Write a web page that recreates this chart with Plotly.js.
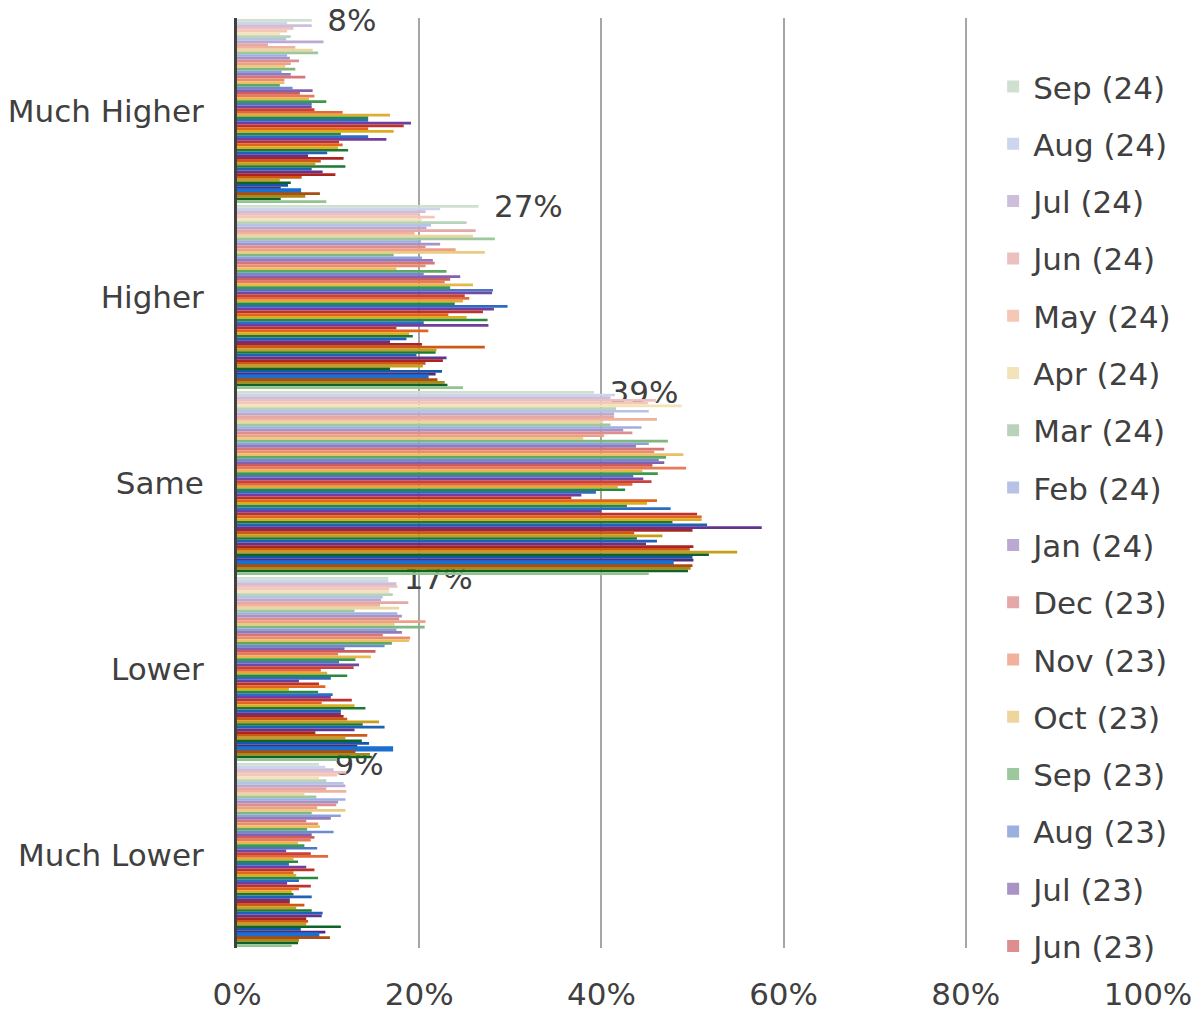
<!DOCTYPE html>
<html>
<head>
<meta charset="utf-8">
<script src="https://cdn.plot.ly/plotly-3.0.1.min.js"></script>
<style>
  html, body { margin: 0; padding: 0; background: #ffffff; }
  #chart { width: 1200px; height: 1012px; }
</style>
</head>
<body>
<div id="chart"></div>
<script>
// ---------------- DATA ----------------
const categories = ['Much Higher', 'Higher', 'Same', 'Lower', 'Much Lower'];

// series, listed top (latest) to bottom (earliest)
const seriesNames = [
  'Sep (24)','Aug (24)','Jul (24)','Jun (24)','May (24)','Apr (24)','Mar (24)','Feb (24)','Jan (24)',
  'Dec (23)','Nov (23)','Oct (23)','Sep (23)','Aug (23)','Jul (23)','Jun (23)','May (23)','Apr (23)','Mar (23)','Feb (23)','Jan (23)',
  'Dec (22)','Nov (22)','Oct (22)','Sep (22)','Aug (22)','Jul (22)','Jun (22)','May (22)','Apr (22)','Mar (22)','Feb (22)','Jan (22)',
  'Dec (21)','Nov (21)','Oct (21)','Sep (21)','Aug (21)','Jul (21)','Jun (21)','May (21)','Apr (21)','Mar (21)','Feb (21)','Jan (21)',
  'Dec (20)','Nov (20)','Oct (20)','Sep (20)','Aug (20)','Jul (20)','Jun (20)','May (20)','Apr (20)','Mar (20)','Feb (20)','Jan (20)',
  'Dec (19)','Nov (19)','Oct (19)','Sep (19)','Aug (19)','Jul (19)','Jun (19)','May (19)','Apr (19)','Mar (19)','Feb (19)'
];

// values (%) per category, in the same order as seriesNames
const muchHigher = [
  8.2, 5.5, 8.2, 6.2, 5.5, 4.7, 5.9, 5.4, 9.5, 3.4,
  6.4, 8.3, 8.9, 5.5, 5.8, 6.8, 5.9, 5.3, 6.4, 4.9,
  5.9, 7.5, 5.2, 5.2, 4.7, 6.1, 8.3, 6.9, 8.5, 7.9,
  9.8, 8.2, 8.2, 8.5, 11.6, 16.8, 14.4, 14.4, 19.1, 18.3,
  14.4, 17.2, 11.4, 14.4, 16.4, 11.2, 11.6, 11.1, 12.2, 9.9,
  7.8, 11.7, 9.2, 8.6, 11.9, 8.2, 9.4, 10.8, 7.1, 4.7,
  5.9, 5.6, 4.8, 6.9, 9.1, 7.5, 4.8, 9.8
];
const higher = [
  26.5, 22.3, 20.7, 20.1, 21.7, 20.3, 25.2, 21.3, 20.8, 26.2,
  19.5, 25.9, 28.3, 20.2, 22.3, 20.7, 24.0, 27.2, 17.2, 20.3,
  21.5, 21.7, 20.7, 17.5, 23.0, 20.5, 24.5, 23.4, 22.8, 25.9,
  23.4, 28.1, 28.0, 25.0, 25.5, 24.8, 23.9, 29.7, 28.2, 27.0,
  23.2, 25.2, 27.5, 20.5, 27.6, 17.5, 21.0, 18.9, 19.3, 18.6,
  16.8, 20.3, 27.2, 21.9, 21.8, 19.7, 23.0, 22.6, 20.7, 20.4,
  16.8, 22.5, 21.8, 20.9, 22.0, 22.8, 23.1, 24.8
];
const same = [
  39.2, 41.5, 41.0, 46.0, 45.1, 48.8, 41.6, 45.2, 41.4, 41.4,
  46.1, 40.2, 41.0, 44.4, 42.4, 43.4, 40.3, 38.0, 47.3, 45.2,
  43.8, 46.9, 45.8, 49.0, 47.1, 46.3, 46.9, 45.6, 49.3, 44.5,
  46.2, 43.5, 44.6, 45.5, 43.4, 41.8, 42.6, 39.4, 37.8, 36.7,
  46.1, 45.0, 42.8, 47.6, 40.0, 50.5, 51.0, 51.0, 47.8, 51.6,
  57.6, 50.0, 43.6, 46.7, 43.9, 46.1, 44.9, 50.1, 49.7, 54.9,
  51.8, 50.0, 50.1, 47.8, 50.0, 49.8, 49.5, 45.2
];
const lower = [
  16.6, 16.6, 17.5, 17.6, 16.7, 16.7, 17.1, 16.0, 15.8, 18.8,
  15.7, 17.8, 12.9, 17.6, 18.1, 17.8, 20.7, 17.3, 20.6, 17.5,
  18.1, 16.0, 19.0, 18.9, 17.0, 16.2, 11.8, 15.2, 11.1, 14.7,
  13.0, 11.2, 13.4, 12.8, 9.2, 9.9, 12.1, 10.3, 6.8, 9.0,
  9.7, 5.7, 8.9, 10.5, 10.3, 12.6, 9.3, 12.9, 14.1, 11.4,
  11.4, 11.7, 12.1, 15.6, 13.8, 16.2, 12.9, 8.6, 14.3, 11.9,
  13.7, 14.5, 13.2, 17.0, 13.0, 14.6, 14.8, 11.0
];
const muchLower = [
  9.0, 9.7, 10.6, 12.0, 11.0, 9.0, 9.8, 11.7, 11.9, 9.8,
  12.0, 7.4, 8.7, 11.9, 11.1, 10.9, 8.8, 11.9, 8.2, 11.4,
  10.3, 7.6, 8.9, 9.1, 7.7, 10.6, 8.2, 8.5, 8.1, 6.7,
  7.4, 8.8, 5.4, 8.1, 10.0, 6.2, 6.7, 5.7, 7.6, 8.5,
  6.2, 6.5, 8.9, 6.8, 5.5, 8.1, 6.8, 6.0, 6.2, 8.2,
  5.8, 5.8, 7.4, 6.5, 8.2, 9.4, 9.3, 7.6, 7.8, 7.6,
  11.4, 7.0, 9.7, 8.9, 10.2, 6.8, 6.7, 6.0
];

// data labels shown on the latest series
const latestLabels = ['8%', '27%', '39%', '17%', '9%'];

// number of legend entries visible in the original
const legendVisibleCount = 16;

// ---------------- STYLE ----------------
const hueOrder = ['g', 'b', 'p', 'r', 'o', 'y'];
const shades = {
  g: ['#cfe0d0','#b9d3ba','#9dc79c','#7fb87f','#5ea862','#3a9a4a','#258a3b','#1a7a33','#0f6328'],
  b: ['#ccd5ec','#b6c3e6','#9cb0df','#8aa1da','#6f8bd0','#4d74c7','#2f6bc4','#1f61b5','#1658a8'],
  p: ['#cdbfdc','#baa9d2','#a892c6','#9479bd','#8262b0','#7049a4','#6e3f9c','#603490','#52297c'],
  r: ['#ebc0bf','#e3a8a7','#dc8f8e','#d67676','#cf5c5c','#c8403f','#c2302b','#ab2420','#8e1c17'],
  o: ['#f5c7b6','#f0b29d','#eea087','#ec8c6e','#e97a55','#e5683a','#e0661f','#cc5a14','#ad4d10'],
  y: ['#f2e3b9','#eed59d','#ebcb82','#e8c066','#e5b74d','#dfad35','#dcac1f','#c89d17','#a88a14']
};
function shadeLevel(i) {
  if (i < 36) return Math.floor(i / 6);
  if (i < 48) return 6;
  if (i < 60) return 7;
  return 8;
}
function colorFor(i, n) {
  if (i === n - 1) return '#93c48f';       // bottom-most series (light green)
  if (i === n - 5) return '#1a6fd0';       // highlighted bright blue series
  return shades[hueOrder[i % 6]][shadeLevel(i)];
}

const textColor = '#404040';
const fontFamily = 'DejaVu Sans, Verdana, sans-serif';
const n = seriesNames.length;

const traces = seriesNames.map(function (name, i) {
  const col = colorFor(i, n);
  const highlighted = (i === n - 5);
  const t = {
    type: 'bar',
    orientation: 'h',
    name: name,
    legendgroup: name,
    showlegend: i < legendVisibleCount,
    y: categories,
    x: [muchHigher[i], higher[i], same[i], lower[i], muchLower[i]],
    marker: {
      color: col,
      line: { width: highlighted ? 2.5 : 0, color: col }
    },
    hoverinfo: 'skip'
  };
  if (i === 0) {
    t.text = latestLabels;
    t.texttemplate = '\u2002%{text}';
    t.textposition = 'outside';
    t.constraintext = 'none';
    t.cliponaxis = false;
    t.textfont = { family: fontFamily, size: 31, color: textColor };
  }
  return t;
});

const layout = {
  width: 1200,
  height: 1012,
  margin: { l: 237, r: 52, t: 18, b: 64, pad: 0 },
  paper_bgcolor: '#ffffff',
  plot_bgcolor: '#ffffff',
  font: { family: fontFamily, size: 31, color: textColor },
  barmode: 'group',
  bargap: 0.01,
  bargroupgap: 0,
  xaxis: {
    range: [0, 100],
    tick0: 0,
    dtick: 20,
    ticksuffix: '%',
    showgrid: true,
    gridcolor: '#a6a6a6',
    gridwidth: 2,
    zeroline: false,
    showline: false,
    ticks: '',
    ticklabelstandoff: 25,
    tickfont: { family: fontFamily, size: 31, color: textColor },
    fixedrange: true
  },
  yaxis: {
    type: 'category',
    categoryorder: 'array',
    categoryarray: categories,
    autorange: 'reversed',
    showline: true,
    linecolor: '#404040',
    linewidth: 3,
    showgrid: false,
    zeroline: false,
    ticks: '',
    ticklabelstandoff: 24,
    tickfont: { family: fontFamily, size: 31, color: textColor },
    fixedrange: true
  },
  showlegend: true,
  legend: {
    x: 0.83,
    y: 0.955,
    xanchor: 'left',
    yanchor: 'top',
    bgcolor: 'rgba(0,0,0,0)',
    borderwidth: 0,
    font: { family: fontFamily, size: 31, color: textColor },
    tracegroupgap: 14,
    traceorder: 'grouped'
  }
};

Plotly.newPlot('chart', traces, layout, { displayModeBar: false, staticPlot: true });
</script>
</body>
</html>
